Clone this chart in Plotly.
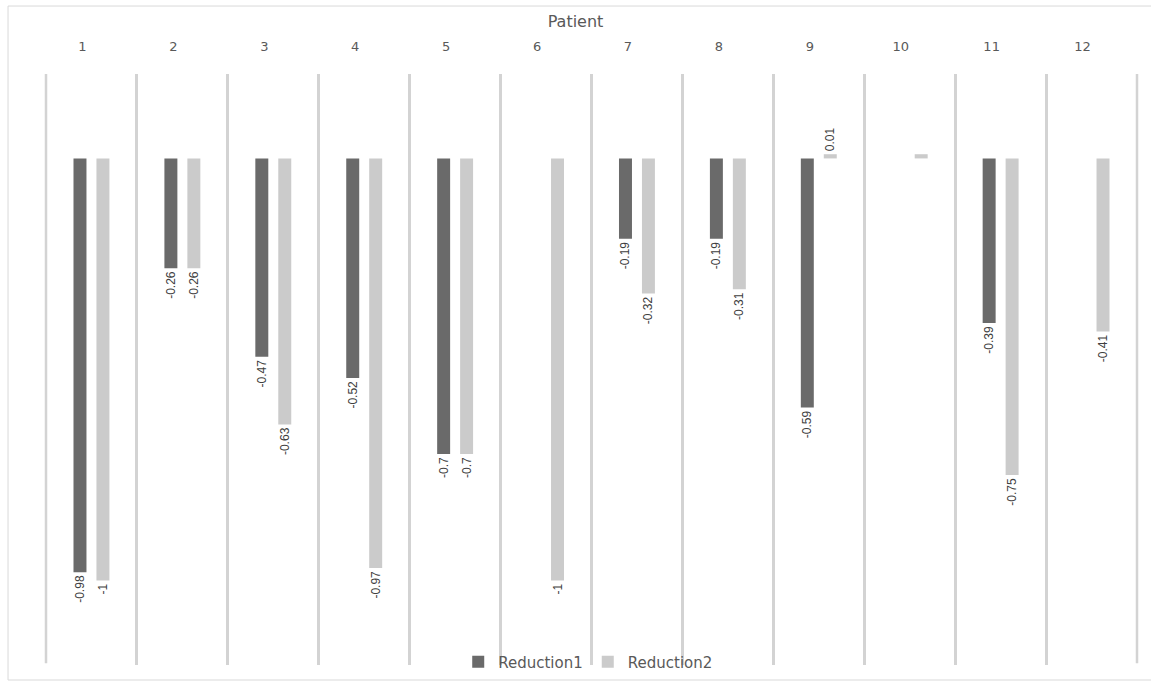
import plotly.graph_objects as go

# Patient categories and the two reduction series
patients = ["1", "2", "3", "4", "5", "6", "7", "8", "9", "10", "11", "12"]
reduction1 = [-0.98, -0.26, -0.47, -0.52, -0.7, None, -0.19, -0.19, -0.59, None, -0.39, None]
reduction2 = [-1, -0.26, -0.63, -0.97, -0.7, -1, -0.32, -0.31, 0.01, 0.01, -0.75, -0.41]

# Value labels (patient 10's second bar carries no label)
labels1 = ["" if v is None else f"{v:g}" for v in reduction1]
labels2 = [f"{v:g}" for v in reduction2]
labels2[9] = ""

label_font = dict(family="Liberation Sans Narrow, Liberation Sans, Arial", size=12, color="#404040")
grid_color = "#d3d3d3"

fig = go.Figure()
fig.add_trace(go.Bar(
    name="Reduction1", x=patients, y=reduction1,
    marker=dict(color="#6a6a6a", line=dict(width=0)),
    text=labels1, textposition="outside", textangle=-90,
    textfont=label_font, cliponaxis=False,
))
fig.add_trace(go.Bar(
    name="Reduction2", x=patients, y=reduction2,
    marker=dict(color="#cbcbcb", line=dict(width=0)),
    text=labels2, textposition="outside", textangle=-90,
    textfont=label_font, cliponaxis=False,
))

# outer edges of the category grid
edge_lines = [
    dict(type="line", xref="paper", yref="paper", x0=xp, x1=xp, y0=0.003, y1=1,
         line=dict(color=grid_color, width=2.5), layer="below")
    for xp in (0, 1)
]
# chart frame
frame = dict(
    type="rect", xref="paper", yref="paper",
    x0=-0.0348, x1=1.03, y0=-0.0254, y1=1.115,
    line=dict(color="#d9d9d9", width=1), fillcolor="rgba(0,0,0,0)", layer="below",
)

fig.update_layout(
    width=1151, height=682,
    margin=dict(l=46, r=14, t=74, b=17, autoexpand=False),
    paper_bgcolor="white", plot_bgcolor="white",
    barmode="group", bargap=0.495, bargroupgap=0.435,
    font=dict(family="DejaVu Sans, Open Sans, Arial", color="#595959"),
    title=dict(text="Patient", x=0.5, xanchor="center", y=0.968, yanchor="middle",
               font=dict(size=16, color="#595959")),
    uniformtext=dict(minsize=8, mode="show"),
    showlegend=True,
    legend=dict(orientation="h", x=0.497, xanchor="center", y=0.005, yanchor="middle",
                bgcolor="rgba(0,0,0,0)", font=dict(size=15, color="#595959"),
                itemwidth=30, traceorder="normal"),
    xaxis=dict(
        side="top", type="category", tickson="boundaries",
        showgrid=True, gridcolor=grid_color, gridwidth=2.5,
        showline=False, zeroline=False,
        ticks="outside", ticklen=0, tickcolor="rgba(0,0,0,0)",
        ticklabelstandoff=19, ticklabelshift=-9,
        tickfont=dict(size=13, color="#595959"),
    ),
    yaxis=dict(
        range=[-1.2, 0.2], visible=False, showgrid=False, zeroline=False,
    ),
    shapes=edge_lines + [frame],
)

fig.write_html("out.html")
